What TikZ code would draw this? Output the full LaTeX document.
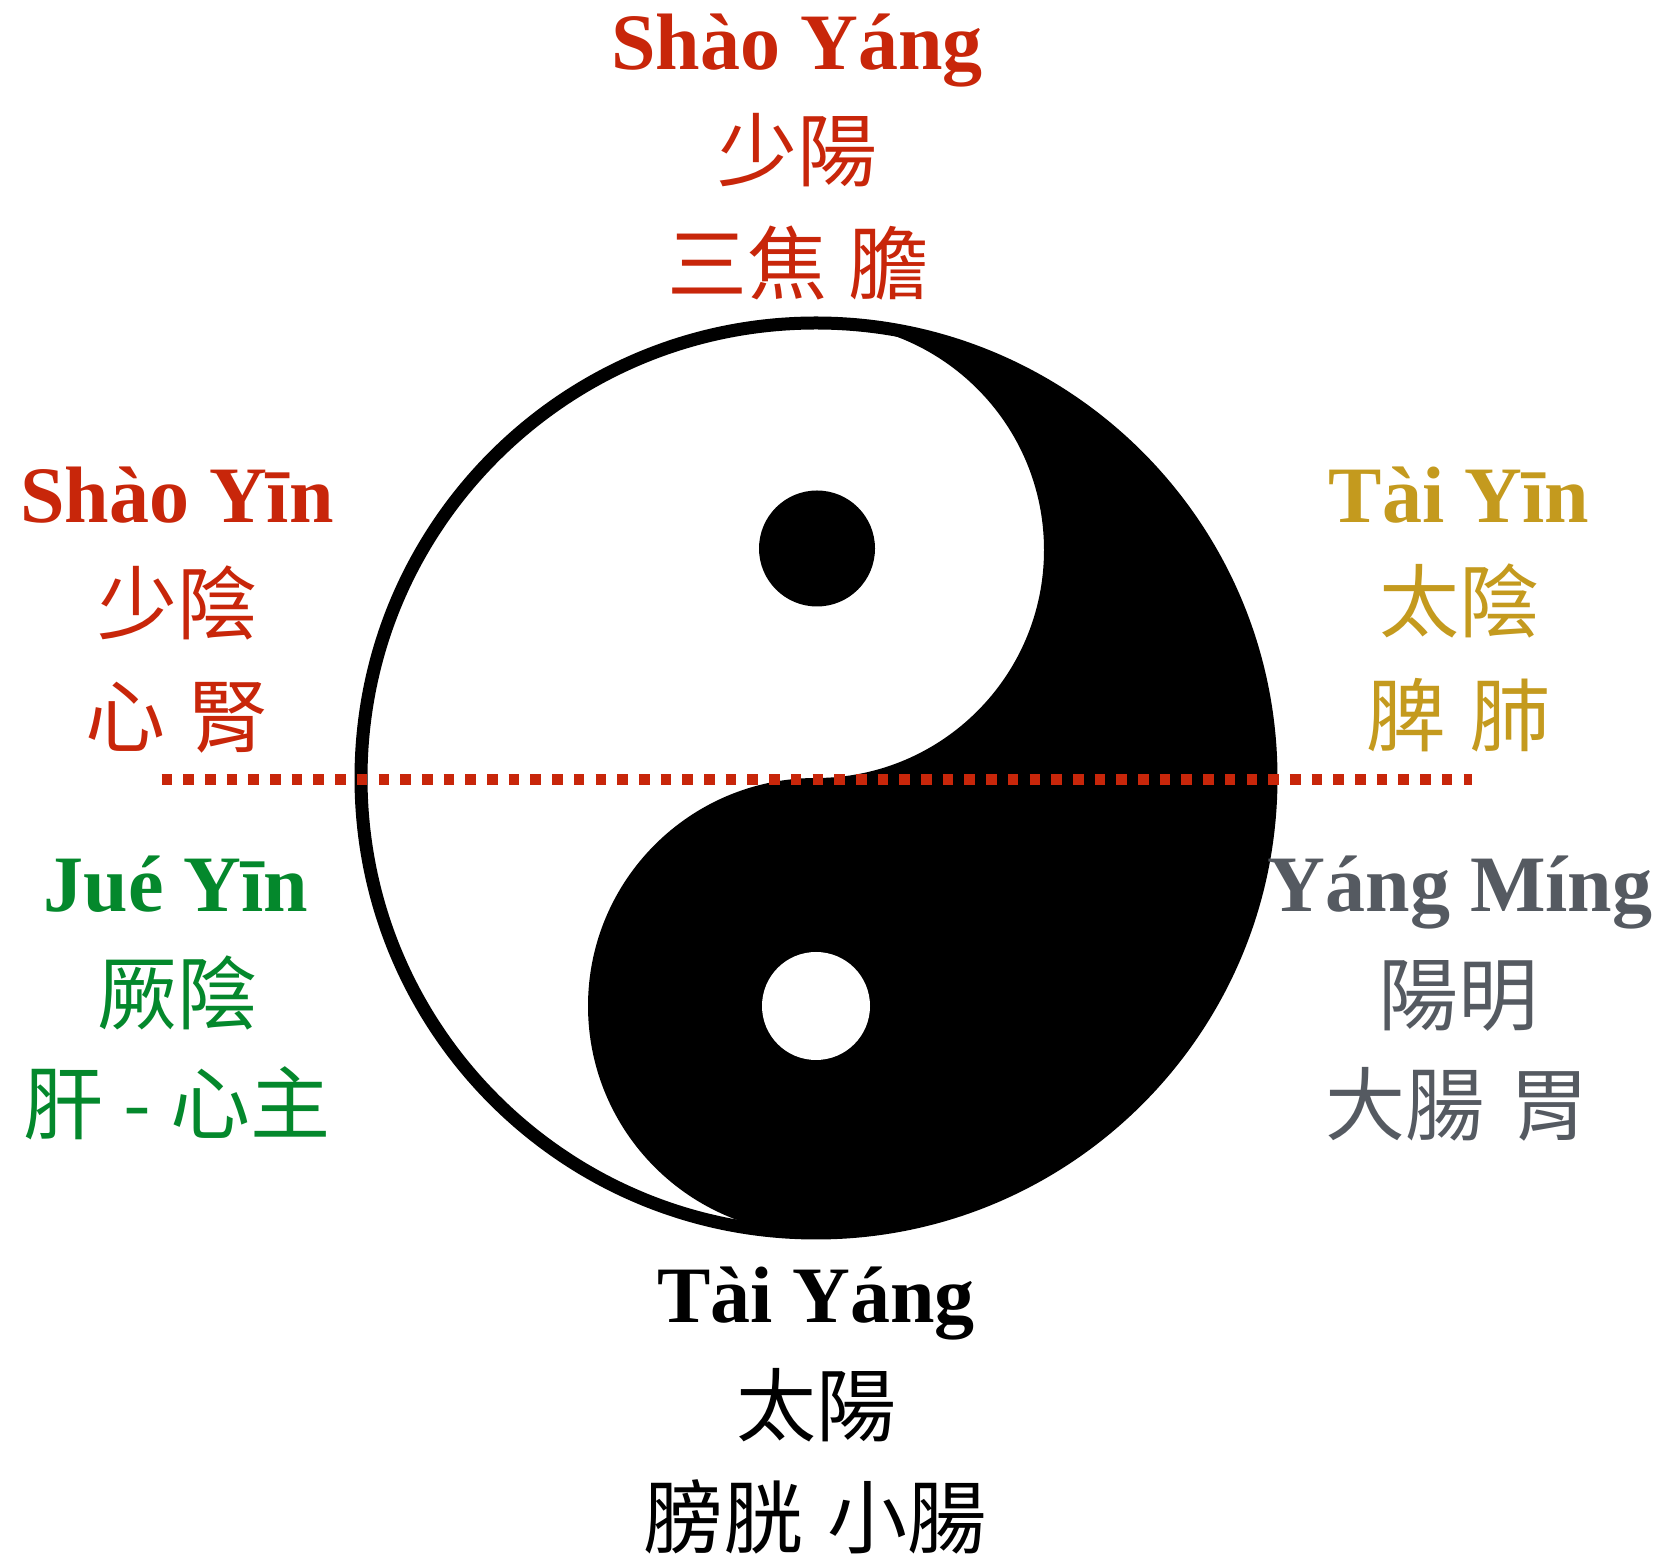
\documentclass[tikz,border=0pt]{standalone}
\usepackage{fontspec}
\setmainfont{Liberation Serif}
\newfontfamily\cjk{Noto Sans CJK TC}
\definecolor{cred}{RGB}{200,38,10}
\definecolor{cgold}{RGB}{196,154,30}
\definecolor{cgreen}{RGB}{4,136,44}
\definecolor{cgray}{RGB}{85,90,97}
\begin{document}
\begin{tikzpicture}[x=1pt,y=1pt,
  py/.style={font=\fontsize{80}{80}\selectfont\bfseries, anchor=base, inner sep=0pt},
  cj/.style={font=\fontsize{80}{80}\selectfont\cjk, anchor=base, inner sep=0pt}]
\useasboundingbox (0,0) rectangle (1660,1556);
\fill[white] (0,0) rectangle (1660,1556);
% yin-yang
\coordinate (O) at (816,778);
\fill[white] (O) circle (456);
\fill[black] (816,1234) arc[start angle=90, end angle=-90, radius=456]
  arc[start angle=-90, end angle=-270, radius=228]
  arc[start angle=-90, end angle=90, radius=228] -- cycle;
\draw[line width=13pt] (O) circle (455);
\fill[black] (817,1007.5) circle (58);
\fill[white] (816,550) circle (54);
% dotted line
\coordinate (dl) at (161.5,776.5);
\coordinate (dr) at (1472,776.5);
\draw[cred, line width=11pt, dash pattern=on 10.6pt off 11.1pt] (dl) -- (dr);
% top: Shao Yang
\node[py, text=cred] (sy) at (797,1486) {Shào Yáng};
\node[cj, text=cred] (sy1) at (797,1375) {少陽};
\node[cj, text=cred] (sy2) at (798,1262) {三焦\hspace{0.26em}膽};
% left upper: Shao Yin
\node[py, text=cred] (sn) at (177,1033) {Shào Yīn};
\node[cj, text=cred] (sn1) at (177,922) {少陰};
\node[cj, text=cred] (sn2) at (177,809) {心\hspace{0.28em}腎};
% right upper: Tai Yin
\node[py, text=cgold] (tn) at (1459,1033) {Tài Yīn};
\node[cj, text=cgold] (tn1) at (1459,924) {太陰};
\node[cj, text=cgold] (tn2) at (1458,810) {脾\hspace{0.3em}肺};
% left lower: Jue Yin
\node[py, text=cgreen] (jy) at (176,644) {Jué Yīn};
\node[cj, text=cgreen] (jy1) at (177,532) {厥陰};
\node[cj, text=cgreen] (jy2) at (177,422) {肝\hspace{0.25em}-\hspace{0.25em}心主};
% right lower: Yang Ming
\node[py, text=cgray] (ym) at (1460,644) {Yáng Míng};
\node[cj, text=cgray] (ym1) at (1458,531) {陽明};
\node[cj, text=cgray] (ym2) at (1457,421) {大腸\hspace{0.3em}胃};
% bottom: Tai Yang
\node[py, text=black] (ty) at (816,233) {Tài Yáng};
\node[cj, text=black] (ty1) at (816,121) {太陽};
\node[cj, text=black] (ty2) at (815,9) {膀胱\hspace{0.3em}小腸};
\end{tikzpicture}
\end{document}
